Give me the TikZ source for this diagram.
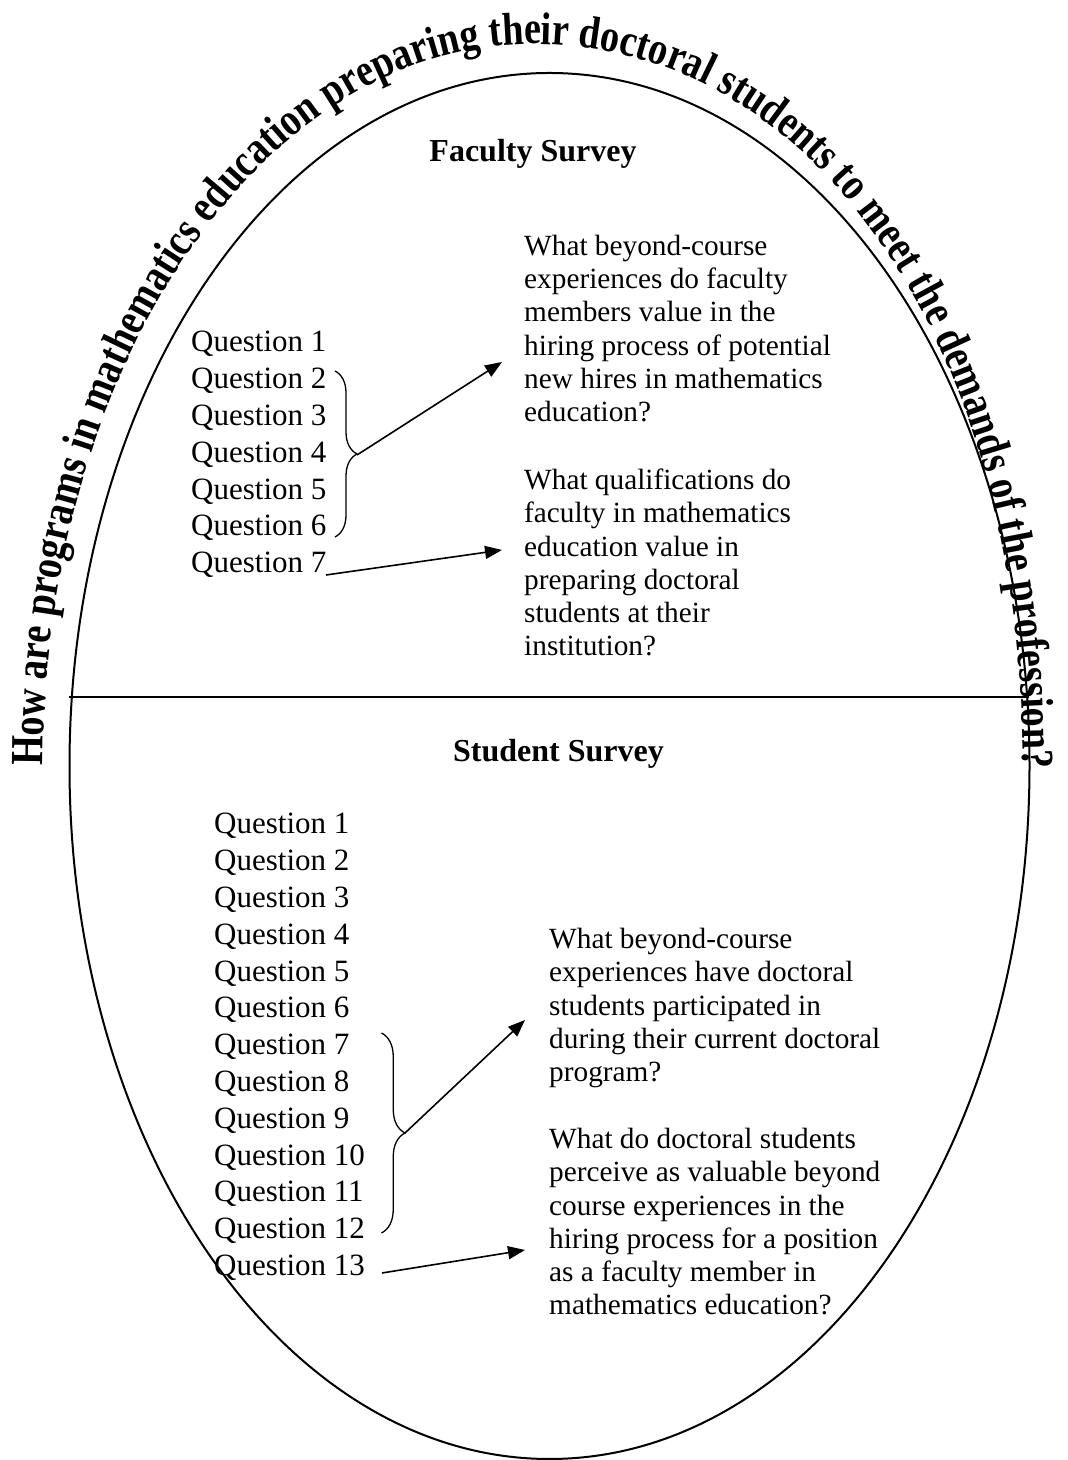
\documentclass[tikz,border=0pt]{standalone}
\usepackage{fontspec}
\setmainfont{Liberation Serif}
\newfontfamily\arcfam[FakeStretch=0.83]{Liberation Serif}
\newcommand\arcfont{\arcfam\bfseries\fontsize{46}{50}\selectfont}
\usetikzlibrary{decorations.text,decorations.pathreplacing,arrows.meta}
\begin{document}
\begin{tikzpicture}[x=1pt,y=1pt,
  qlist/.style={font=\fontsize{31}{36.8}\selectfont, align=left, anchor=north west, inner sep=0pt},
  qblock/.style={font=\fontsize{29.3}{33.3}\selectfont, align=left, anchor=north west, inner sep=0pt},
  header/.style={font=\bfseries\fontsize{32}{36}\selectfont, anchor=base, inner sep=0pt},
  bracestyle/.style={decorate, line width=1.3pt},
  arrowstyle/.style={line width=1.6pt, -{Triangle[length=17pt,width=13pt]}},
  frame/.style={line width=2pt}]
\useasboundingbox (0,0) rectangle (1068,1460);

% oval and divider
\draw[frame] (549.5,694) ellipse[x radius=480, y radius=693];
\coordinate (divL) at (69,763);
\coordinate (divR) at (1029,763);
\draw[line width=1.8pt] (divL) -- (divR);

% curved title
\path[decorate, decoration={text along path,
  text={|\arcfont|How are programs in mathematics education preparing their doctoral students to meet the demands of the profession?},
  text align=fit to path}]
  (43,694) arc[start angle=180, end angle=90, x radius=490, y radius=722]
  .. controls (817.2,1416) and (1023,1112.8) .. (1023,694);

% headers
\node[header] (fachead) at (533,1298) {Faculty Survey};
\node[header] (stuhead) at (558.5,698) {Student Survey};

% faculty questions
\node[qlist] (fq) at (191,1136.2) {\rule{0pt}{0.9em}Question 1\\Question 2\\Question 3\\Question 4\\Question 5\\Question 6\\Question 7};

\node[qblock] (fr1) at (524,1231.4) {\rule{0pt}{0.9em}What beyond-course\\experiences do faculty\\members value in the\\hiring process of potential\\new hires in mathematics\\education?};
\node[qblock] (fr2) at (524,997.1) {\rule{0pt}{0.9em}What qualifications do\\faculty in mathematics\\education value in\\preparing doctoral\\students at their\\institution?};

\coordinate (fbtop) at (335,1089);
\coordinate (fbbot) at (335,923);
\coordinate (fbtip) at (357,1005);
\draw[bracestyle, decoration={brace, amplitude=22pt}] (fbtop) -- (fbbot);
\coordinate (fa1end) at (502,1098);
\draw[arrowstyle] (fbtip) -- (fa1end);
\coordinate (fq7end) at (326,885);
\coordinate (fa2end) at (502,910);
\draw[arrowstyle] (fq7end) -- (fa2end);

% student questions
\node[qlist] (sq) at (214,654.2) {\rule{0pt}{0.9em}Question 1\\Question 2\\Question 3\\Question 4\\Question 5\\Question 6\\Question 7\\Question 8\\Question 9\\Question 10\\Question 11\\Question 12\\Question 13};

\node[qblock] (sr1) at (549,538.1) {\rule{0pt}{0.9em}What beyond-course\\experiences have doctoral\\students participated in\\during their current doctoral\\program?};
\node[qblock] (sr2) at (549,338.1) {\rule{0pt}{0.9em}What do doctoral students\\perceive as valuable beyond\\course experiences in the\\hiring process for a position\\as a faculty member in\\mathematics education?};

\coordinate (sbtop) at (381.5,427);
\coordinate (sbbot) at (381.5,227);
\coordinate (sbtip) at (405,327);
\draw[bracestyle, decoration={brace, amplitude=23.5pt}] (sbtop) -- (sbbot);
\coordinate (sa1end) at (525,440);
\draw[arrowstyle] (sbtip) -- (sa1end);
\coordinate (sq13end) at (382,187);
\coordinate (sa2end) at (525,210);
\draw[arrowstyle] (sq13end) -- (sa2end);
\end{tikzpicture}
\end{document}
